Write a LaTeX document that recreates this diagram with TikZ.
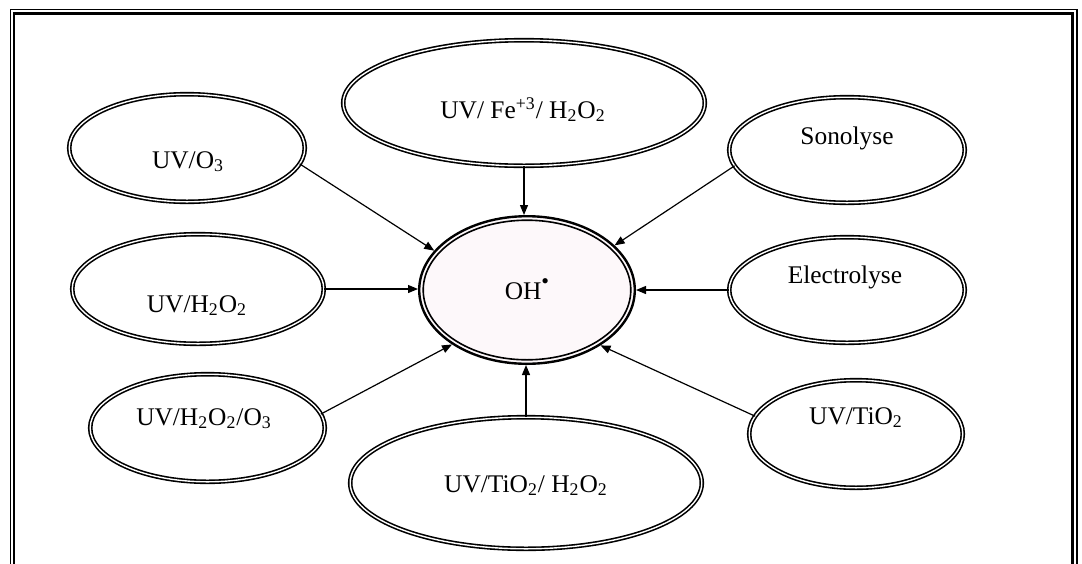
\documentclass[tikz,border=0pt]{standalone}
\usepackage{fontspec}
\setmainfont{Liberation Serif}
\usetikzlibrary{shapes.geometric,arrows.meta}
\begin{document}
\begin{tikzpicture}[x=0.5pt,y=-0.5pt,
  proc/.style={ellipse, draw, double, line width=0.8pt, double distance=0.7pt, inner sep=0pt, outer sep=0pt},
  ohnode/.style={ellipse, draw, line width=1.2pt, fill=ohfill, inner sep=0pt, outer sep=0.6pt,
     minimum width=107.8pt, minimum height=73.8pt,
     path picture={\draw[line width=0.8pt] (path picture bounding box.center) ellipse [x radius=51.9pt, y radius=34.9pt];}},
  lbl/.style={font=\fontsize{12.7}{15}\selectfont, anchor=base, inner sep=0pt},
  arr/.style={-{Triangle[length=5pt,width=4pt]}, line width=0.6pt},
  frameline/.style={line width=#1}]
\definecolor{ohfill}{HTML}{FDF8FA}
\useasboundingbox (0,0) rectangle (1082,563);
\clip (0,0) rectangle (1082,563);
% frame
\draw[frameline=0.6pt] (10.5,600) |- (1077,9.5) -- (1077,600);
\draw[frameline=1.2pt] (14,600) |- (1072.5,13.5) -- (1072.5,600);
% ellipses
\node[proc, minimum width=180.8pt, minimum height=62.8pt] (fe) at (524,103) {};
\node[proc, minimum width=117.8pt, minimum height=53.8pt] (uvo3) at (187,148) {};
\node[proc, minimum width=117.8pt, minimum height=52.8pt] (sono) at (847,150) {};
\node[proc, minimum width=125.8pt, minimum height=54.8pt] (uvh2o2) at (198,289) {};
\node[proc, minimum width=117.8pt, minimum height=52.8pt] (elec) at (847,290) {};
\node[proc, minimum width=117.3pt, minimum height=53.8pt] (uvh2o2o3) at (207.5,428) {};
\node[proc, minimum width=175.8pt, minimum height=65.8pt] (tih2o2) at (526,483) {};
\node[proc, minimum width=106.8pt, minimum height=53.8pt] (uvtio2) at (856,434) {};
\node[ohnode] (oh) at (527,290) {};
% texts
\node[lbl] (fe-t) at (523,118) {UV/ Fe\textsuperscript{+3}/ H\textsubscript{2}O\textsubscript{2}};
\node[lbl] (uvo3-t) at (188,168) {UV/O\textsubscript{3}};
\node[lbl] (sono-t) at (847,144) {Sonolyse};
\node[lbl] (uvh2o2-t) at (197,312) {UV/H\textsubscript{2}O\textsubscript{2}};
\node[lbl] (elec-t) at (845,283) {Electrolyse};
\node[lbl] (uvh2o2o3-t) at (204,425) {UV/H\textsubscript{2}O\textsubscript{2}/O\textsubscript{3}};
\node[lbl] (tih2o2-t) at (526,492) {UV/TiO\textsubscript{2}/ H\textsubscript{2}O\textsubscript{2}};
\node[lbl] (uvtio2-t) at (856,424) {UV/TiO\textsubscript{2}};
\node[lbl] (oh-t) at (527,299) {OH\raisebox{0.42em}{\fontsize{11}{11}\selectfont\textbullet}};
% arrows
\draw[arr] (uvo3.-8) -- (oh.157);
\draw[arr] (fe.south) -- (fe.south |- oh.north);
\draw[arr] (sono.188) -- (oh.27);
\draw[arr] (uvh2o2.east) -- (uvh2o2.east -| oh.west);
\draw[arr] (elec.west) -- (elec.west -| oh.east);
\draw[arr] (uvh2o2o3.7) -- (oh.216);
\draw[arr] (tih2o2.north) -- (tih2o2.north |- oh.south);
\draw[arr] (uvtio2.170) -- (oh.-37);
\end{tikzpicture}
\end{document}
